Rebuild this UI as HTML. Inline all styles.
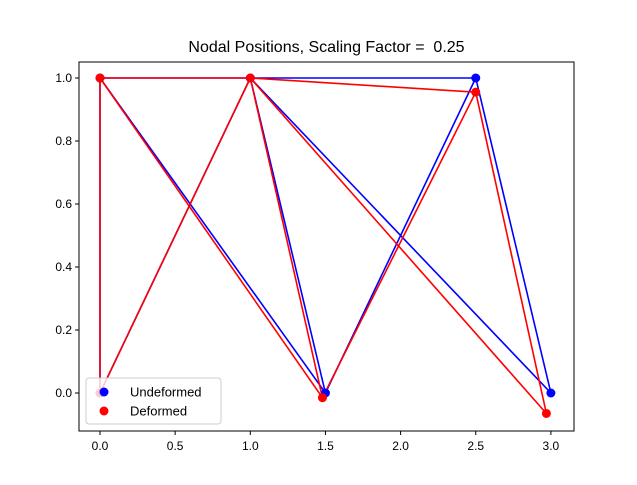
<!DOCTYPE html>
<html><head><meta charset="utf-8"><style>body{margin:0;background:#fff}svg{display:block;font-family:"Liberation Sans","DejaVu Sans",sans-serif}</style></head>
<body>
<svg id="c" width="637" height="485"></svg>
<script>
const nodeX0=[0,1,2.5,0,1.5,3];
const nodeY0=[1,1,1,0,0,0];
const nodeX1=[0,1,2.5,0,1.48,2.97];
const nodeY1=[1,1,0.955,0,-0.015,-0.065];
const membersA=[0,1,0,0,1,1,1,4,2];
const membersB=[1,2,3,4,3,4,5,2,5];
const xTicks=[0,0.5,1,1.5,2,2.5,3];
const yTicks=[0,0.2,0.4,0.6,0.8,1.0];
const L=79,R=574,T=62,B=431;
const sx=v=>100+v*150.3, sy=v=>393-v*315;
const svg=document.getElementById('c');const NS='http://www.w3.org/2000/svg';
function mk(t,a,p){const e=document.createElementNS(NS,t);for(const k in a)e.setAttribute(k,a[k]);(p||svg).appendChild(e);return e;}
let t=mk('text',{x:(L+R)/2,y:52,'text-anchor':'middle','font-size':16,style:'white-space:pre'});t.textContent='Nodal Positions, Scaling Factor =  0.25';


xTicks.forEach(v=>{const x=sx(v);mk('line',{x1:x,x2:x,y1:B,y2:B+4,stroke:'#000'});const s=mk('text',{x:x,y:B+19,'text-anchor':'middle','font-size':12});s.textContent=v.toFixed(1);

});
yTicks.forEach(v=>{const y=sy(v);mk('line',{x1:L-4,x2:L,y1:y,y2:y,stroke:'#000'});const s=mk('text',{x:L-7,y:y+4,'text-anchor':'end','font-size':12});s.textContent=v.toFixed(1);

});
function draw(X,Y,col,name){membersA.forEach((a,i)=>{const b=membersB[i];const l=mk('line',{x1:sx(X[a]),y1:sy(Y[a]),x2:sx(X[b]),y2:sy(Y[b]),stroke:col,'stroke-width':1.6});

});}
function pts(X,Y,col,name){X.forEach((x,i)=>{const c=mk('circle',{cx:sx(x),cy:sy(Y[i]),r:4.5,fill:col});

});}
draw(nodeX0,nodeY0,'#0000ff','undeformed');
draw(nodeX1,nodeY1,'#ff0000','deformed');
pts(nodeX0,nodeY0,'#0000ff','undeformed');
pts(nodeX1,nodeY1,'#ff0000','deformed');
const f=mk('rect',{x:L,y:T,width:R-L,height:B-T,fill:'none',stroke:'#000','stroke-width':1});


const g=mk('g',{});


mk('rect',{x:86,y:378,width:135,height:46,rx:3,fill:'#fff','fill-opacity':0.8,stroke:'#ccc'},g);
[['Undeformed','#0000ff',392],['Deformed','#ff0000',411]].forEach(([n,c,y])=>{mk('circle',{cx:104,cy:y,r:4.5,fill:c},g);const s=mk('text',{x:130,y:y+4.5,'font-size':13},g);s.textContent=n;

});
</script>
</body></html>
